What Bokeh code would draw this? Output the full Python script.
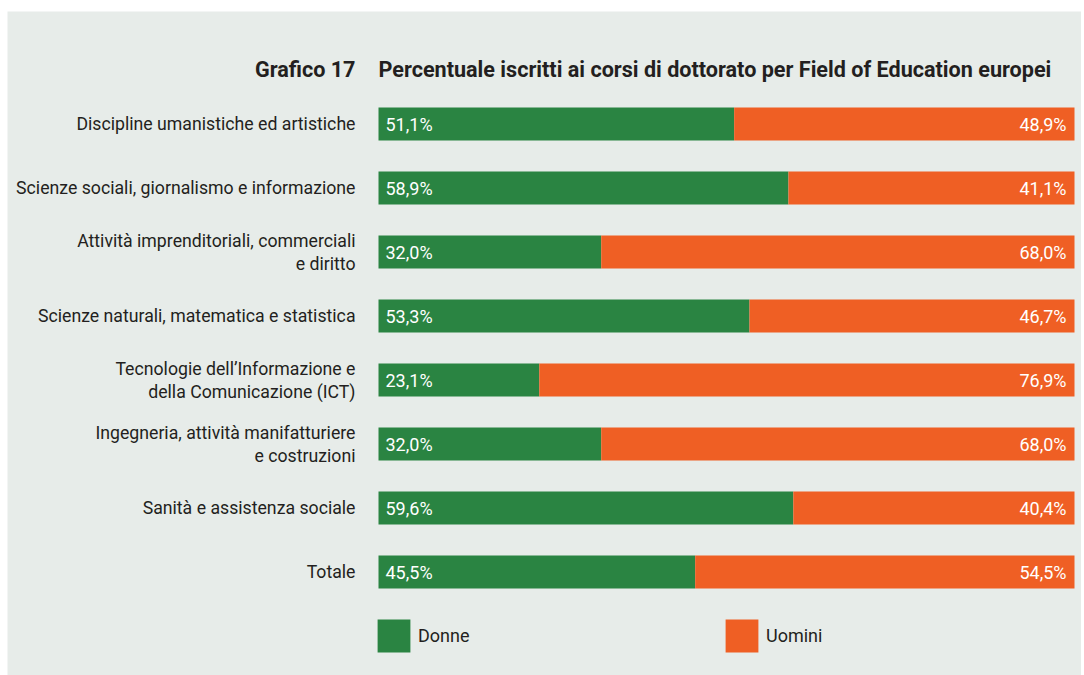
from bokeh.plotting import figure
from bokeh.models import ColumnDataSource, Range1d, Legend, LegendItem
from bokeh.core.properties import value
from bokeh.embed import file_html
from bokeh.resources import INLINE

categories = [
    "Discipline umanistiche ed artistiche",
    "Scienze sociali, giornalismo e informazione",
    "Attività imprenditoriali, commerciali\ne diritto",
    "Scienze naturali, matematica e statistica",
    "Tecnologie dell’Informazione e\ndella Comunicazione (ICT)",
    "Ingegneria, attività manifatturiere\ne costruzioni",
    "Sanità e assistenza sociale",
    "Totale",
]
donne = [51.1, 58.9, 32.0, 53.3, 23.1, 32.0, 59.6, 45.5]
uomini = [48.9, 41.1, 68.0, 46.7, 76.9, 68.0, 40.4, 54.5]
series_names = ["Donne", "Uomini"]
title_num = "Grafico 17"
title_text = "Percentuale iscritti ai corsi di dottorato per Field of Education europei"

# ---- style / layout constants ----
GREEN = "#2a8442"
ORANGE = "#ef5f24"
PANEL = "#e7ece9"
TXT = "#231f20"
FONT = "Roboto"
W, H = 1074, 664
BAR_LEFT_PX, PX_PER_PCT = 371, 6.96      # where 0 % sits, px per percent
ROW0_PX, ROW_PX = 112.5, 64.0             # first row centre, row pitch
TITLE_ROW = -0.85

def fmt(v):
    return f"{v:.1f}%".replace(".", ",")

rows = list(range(len(categories)))
source = ColumnDataSource(dict(
    row=rows,
    cat=categories,
    donne=donne,
    uomini=uomini,
    total=[d + u for d, u in zip(donne, uomini)],
    zero=[0.0] * len(categories),
    dl=[fmt(v) for v in donne],
    ul=[fmt(v) for v in uomini],
))

x_range = Range1d(-BAR_LEFT_PX / PX_PER_PCT, (W - BAR_LEFT_PX) / PX_PER_PCT)
y_range = Range1d((H - ROW0_PX) / ROW_PX, -ROW0_PX / ROW_PX)

p = figure(
    width=W, height=H,
    x_range=x_range, y_range=y_range,
    x_axis_location=None, y_axis_location=None,
    output_backend="svg",
    toolbar_location=None,
    min_border=0,
)
p.margin = (11, 0, 0, 7)
p.background_fill_color = PANEL
p.border_fill_color = PANEL
p.outline_line_color = None
p.grid.visible = False

rs = p.hbar_stack(["donne", "uomini"], y="row", height=33 / ROW_PX,
                  color=[GREEN, ORANGE], line_color=None, source=source)

p.text(x="zero", y="row", text="dl", x_offset=7, text_align="left",
       text_baseline="middle", text_color="white", text_font=value(FONT),
       text_font_size="18px", source=source)
p.text(x="total", y="row", text="ul", x_offset=-8, text_align="right",
       text_baseline="middle", text_color="white", text_font=value(FONT),
       text_font_size="18px", source=source)

# category labels
p.text(x="zero", y="row", text="cat", x_offset=-23, text_align="right",
       text_baseline="middle", text_color=TXT, text_font=value(FONT),
       text_font_size="17.7px", text_line_height=1.15, source=source)

# title
p.text(x=[0], y=[TITLE_ROW], text=[title_num], x_offset=-23, text_align="right",
       text_baseline="middle", text_color=TXT, text_font=value(FONT),
       text_font_size="21.6px", text_font_style="bold")
p.text(x=[0], y=[TITLE_ROW], text=[title_text], text_align="left",
       text_baseline="middle", text_color=TXT, text_font=value(FONT),
       text_font_size="21.6px", text_font_style="bold")

legend = Legend(
    items=[LegendItem(label=series_names[0], renderers=[rs[0]]),
           LegendItem(label=series_names[1], renderers=[rs[1]])],
    orientation="horizontal",
    location=(366, 19),
    padding=0, margin=0, spacing=0,
    glyph_width=41, glyph_height=41, label_height=41,
    label_width=303, label_standoff=4,
    label_text_font=FONT, label_text_font_size="18px", label_text_color=TXT,
    background_fill_alpha=0, border_line_color=None,
)
p.add_layout(legend, "center")

open("out.html", "w").write(file_html(p, INLINE))
